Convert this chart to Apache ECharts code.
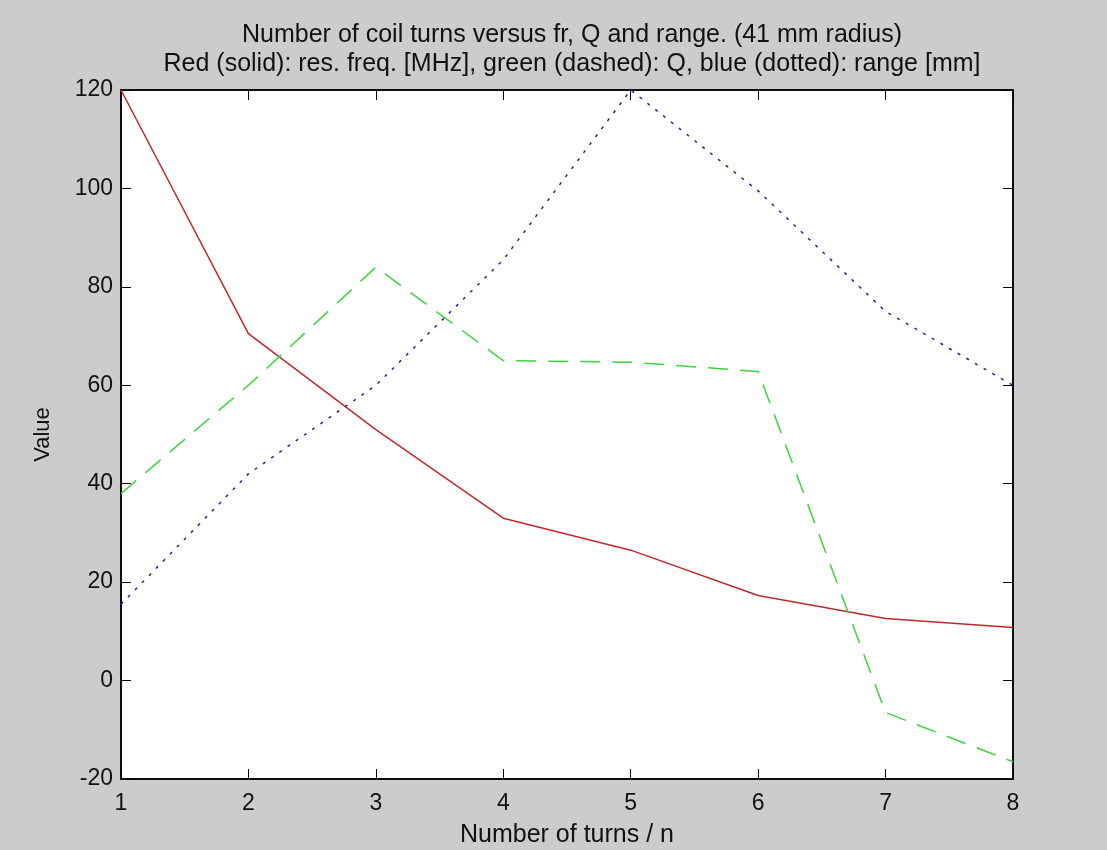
<!DOCTYPE html>
<html>
<head>
<meta charset="utf-8">
<script src="https://cdn.jsdelivr.net/npm/echarts@6/dist/echarts.min.js"></script>
<style>
  html, body { margin: 0; padding: 0; background: #cccccc; }
  #chart { width: 1107px; height: 850px; }
</style>
</head>
<body>
<div id="chart"></div>
<script>
// number of turns
const turns = [1, 2, 3, 4, 5, 6, 7, 8]
// red: resonance frequency [MHz]
const resFreq = [120, 70.5, 51, 33, 26.5, 17.3, 12.6, 10.8]
// green: Q
const qValue = [38, 60, 84, 65, 64.7, 62.8, -6.5, -16.5]
// blue: range [mm]
const rangeMm = [15.5, 42, 60, 85.5, 120, 99.5, 75, 60]

const pairs = arr => turns.map((t, i) => [t, arr[i]])

let myChart = echarts.init(document.getElementById('chart'))
const font = '"Liberation Sans", Arial, sans-serif'

// box axes: ticks pointing inward on all four sides, like the original
const boxLine = { show: true, onZero: false, lineStyle: { color: '#000', width: 1.5 } }
const boxTick = { show: true, inside: true, length: 10, lineStyle: { color: '#000' } }

myChart.setOption({
  animation: false,
  backgroundColor: '#cccccc',
  textStyle: { fontFamily: font, color: '#000' },
  title: [
    {
      text: 'Number of coil turns versus fr, Q and range. (41 mm radius)',
      left: 567, top: 17, textAlign: 'center',
      textStyle: { fontSize: 25, lineHeight: 26, fontWeight: 'normal', color: '#111', fontFamily: font }
    },
    {
      text: 'Red (solid): res. freq. [MHz], green (dashed): Q, blue (dotted): range [mm]',
      left: 567, top: 46, textAlign: 'center',
      textStyle: { fontSize: 25, lineHeight: 26, fontWeight: 'normal', color: '#111', fontFamily: font }
    }
  ],
  grid: {
    left: 121, right: 94, top: 90, bottom: 71,
    outerBoundsMode: 'none', containLabel: false,
    show: true, backgroundColor: '#ffffff', borderColor: '#000', borderWidth: 1.5
  },
  xAxis: [
    {
      type: 'value', min: 1, max: 8, interval: 1,
      name: 'Number of turns / n', nameLocation: 'middle', nameGap: 44,
      nameTextStyle: { fontSize: 25, color: '#111', fontFamily: font },
      axisLine: boxLine, axisTick: boxTick,
      axisLabel: { fontSize: 23, color: '#111', margin: 13, fontFamily: font },
      splitLine: { show: false }
    },
    {
      type: 'value', min: 1, max: 8, interval: 1, position: 'top',
      axisLine: boxLine, axisTick: boxTick,
      axisLabel: { show: false }, splitLine: { show: false }
    }
  ],
  yAxis: [
    {
      type: 'value', min: -20, max: 120, interval: 20,
      name: 'Value', nameLocation: 'middle', nameGap: 67, nameRotate: 90,
      nameTextStyle: { fontSize: 22, color: '#111', fontFamily: font },
      axisLine: boxLine, axisTick: boxTick,
      axisLabel: { fontSize: 23, color: '#111', margin: 8, fontFamily: font },
      splitLine: { show: false }
    },
    {
      type: 'value', min: -20, max: 120, interval: 20, position: 'right',
      axisLine: boxLine, axisTick: boxTick,
      axisLabel: { show: false }, splitLine: { show: false }
    }
  ],
  series: [
    {
      name: 'res. freq.', type: 'line', data: pairs(resFreq),
      symbol: 'none', silent: true,
      lineStyle: { color: '#c0282d', width: 1.5, type: 'solid' }
    },
    {
      name: 'Q', type: 'line', data: pairs(qValue),
      symbol: 'none', silent: true,
      lineStyle: { color: '#3cd43c', width: 1.5, type: [20, 12] }
    },
    {
      name: 'range', type: 'line', data: pairs(rangeMm),
      symbol: 'none', silent: true,
      lineStyle: { color: '#22229a', width: 1.5, type: [3, 7] }
    }
  ]
})
</script>
</body>
</html>
